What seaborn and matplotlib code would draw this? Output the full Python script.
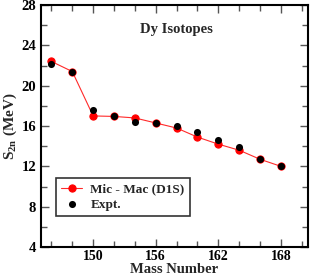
import matplotlib
matplotlib.use("Agg")
import matplotlib.pyplot as plt
import seaborn as sns
import pandas as pd
from matplotlib.ticker import MultipleLocator

mass = [146, 148, 150, 152, 154, 156, 158, 160, 162, 164, 166, 168]
micmac = [22.4, 21.4, 17.0, 16.95, 16.8, 16.3, 15.8, 14.9, 14.2, 13.6, 12.7, 12.0]
expt = [22.1, 21.4, 17.6, 16.95, 16.4, 16.3, 16.0, 15.4, 14.6, 13.9, 12.7, 12.0]
xticks = [150, 156, 162, 168]
yticks = [4, 8, 12, 16, 20, 24, 28]

sns.set_theme(style="ticks")
plt.rcParams["font.family"] = ["Liberation Serif", "DejaVu Serif"]
plt.rcParams["font.weight"] = "bold"
plt.rcParams["mathtext.fontset"] = "custom"
plt.rcParams["mathtext.rm"] = "Liberation Serif:bold"
plt.rcParams["mathtext.it"] = "Liberation Serif:bold"
plt.rcParams["mathtext.bf"] = "Liberation Serif:bold"

df = pd.DataFrame({"A": mass, "micmac": micmac, "expt": expt})

fig = plt.figure(figsize=(3.14, 2.78), dpi=100)
ax = fig.add_axes([0.1306, 0.1115, 0.8504, 0.8705])

sns.lineplot(data=df, x="A", y="micmac", ax=ax, color="#ff2a2a", linewidth=0.8,
             marker="o", markersize=5.2, markeredgecolor="red", markerfacecolor="red",
             label="Mic - Mac (D1S)")
sns.scatterplot(data=df, x="A", y="expt", ax=ax, color="black", s=26,
                edgecolor="black", linewidth=0, label="Expt.", zorder=3)

ax.set_xlim(145, 170.6)
ax.set_ylim(4, 28)
ax.set_xticks(xticks)
ax.set_yticks(yticks)
ax.xaxis.set_minor_locator(MultipleLocator(2))
ax.yaxis.set_minor_locator(MultipleLocator(2))
ax.tick_params(which="both", direction="in", top=True, right=True, width=1.0, colors="#555555",
               labelcolor="black", labelsize=10.5)
ax.tick_params(which="major", length=6)
ax.tick_params(which="minor", length=4.5)
ax.tick_params(axis="x", pad=2, labelsize=10)
ax.tick_params(axis="y", pad=3.5)
for lab in ax.get_xticklabels() + ax.get_yticklabels():
    lab.set_fontweight("bold")
for s in ax.spines.values():
    s.set_linewidth(1.5)
    s.set_color("black")

ax.set_xlabel("Mass Number", fontsize=10.5, fontweight="bold")
ax.xaxis.set_label_coords(0.5, -0.066)
ax.set_ylabel("S$_{2n}$ (MeV)", fontsize=11, fontweight="bold", labelpad=2)
ax.text(0.506, 0.90, "Dy Isotopes", transform=ax.transAxes, ha="center", va="center",
        fontsize=10.5, fontweight="bold")

leg = ax.legend(loc="lower left", bbox_to_anchor=(0.056, 0.128), borderaxespad=0,
                frameon=True, fancybox=False, edgecolor="black", handlelength=1.6,
                handletextpad=0.6, borderpad=0.4, labelspacing=0.25,
                prop={"weight": "bold", "size": 9.5})
leg.get_frame().set_linewidth(1.2)

fig.savefig("out.png", dpi=100)
